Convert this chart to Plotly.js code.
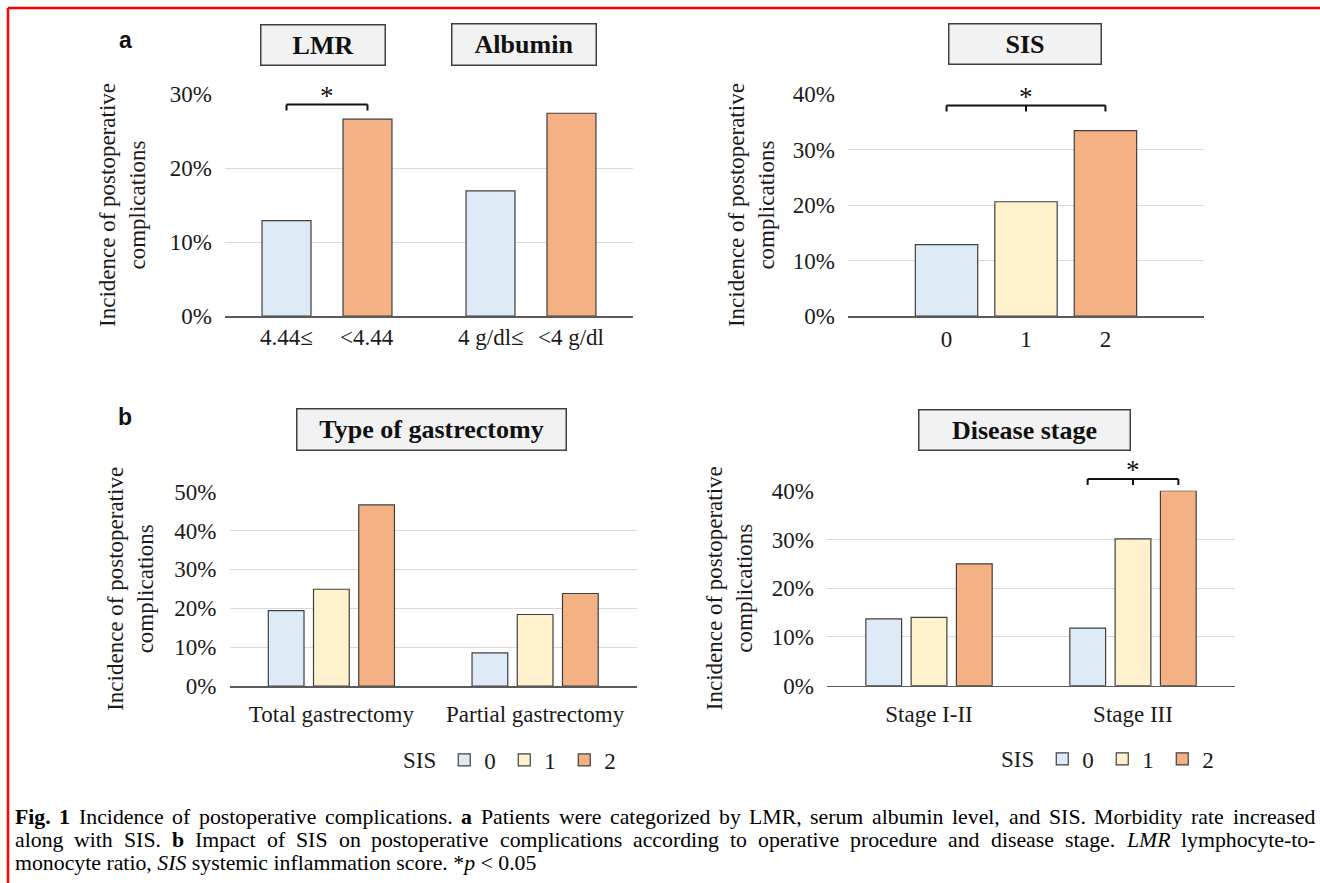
<!DOCTYPE html>
<html>
<head>
<meta charset="utf-8">
<script src="https://cdn.plot.ly/plotly-3.0.1.min.js"></script>
<style>html,body{margin:0;padding:0;background:#fff;}#chart{width:1320px;height:883px;}</style>
</head>
<body>
<div id="chart"></div>
<script>
// ---------- data ----------
const groupCats = ['LMR', 'Albumin'];
const favLabels = ['4.44≤', '4 g/dl≤'];
const unfavLabels = ['<4.44', '<4 g/dl'];
const favValues = [0.129, 0.169];
const unfavValues = [0.266, 0.274];

const sisCats = ['0', '1', '2'];
const sisValues = [0.129, 0.206, 0.334];

const gastCats = ['Total gastrectomy', 'Partial gastrectomy'];
const gastSIS0 = [0.194, 0.085];
const gastSIS1 = [0.249, 0.184];
const gastSIS2 = [0.466, 0.238];

const stageCats = ['Stage I-II', 'Stage III'];
const stageSIS0 = [0.137, 0.118];
const stageSIS1 = [0.140, 0.301];
const stageSIS2 = [0.250, 0.400];

const sisNames = ['0', '1', '2'];
const yTicks = ['0%', '10%', '20%', '30%', '40%', '50%'];

const captionLines = [
  '<b>Fig. 1</b>  Incidence of postoperative complications. <b>a</b> Patients were categorized by LMR, serum albumin level, and SIS. Morbidity rate increased',
  'along with SIS. <b>b</b> Impact of SIS on postoperative complications according to operative procedure and disease stage. <i>LMR</i> lymphocyte-to-',
  'monocyte ratio, <i>SIS</i> systemic inflammation score. *<i>p</i> &lt; 0.05'
];

// ---------- style ----------
const W = 1320, H = 883;
const px = v => v / W;
const py = v => 1 - v / H;
const SERIF = 'Liberation Serif, Times New Roman, serif';
const C0 = '#DEEBF7', C1 = '#FFF2CC', C2 = '#F4B183';
const EDGE = '#3f3f3f';
const TXT = '#1a1a1a';
const barLine = {color: EDGE, width: 1.2};
const PAIR_OFF = 0.1985, PAIR_W = 0.24;

const traces = [
  {type: 'bar', x: groupCats, y: favValues, xaxis: 'x', yaxis: 'y', name: 'favourable',
   marker: {color: C0, line: barLine}, width: PAIR_W, offset: -PAIR_OFF - PAIR_W / 2, showlegend: false, hoverinfo: 'y'},
  {type: 'bar', x: groupCats, y: unfavValues, xaxis: 'x', yaxis: 'y', name: 'unfavourable',
   marker: {color: C2, line: barLine}, width: PAIR_W, offset: PAIR_OFF - PAIR_W / 2, showlegend: false, hoverinfo: 'y'},
  {type: 'bar', x: sisCats, y: sisValues, xaxis: 'x2', yaxis: 'y2', name: 'SIS',
   marker: {color: [C0, C1, C2], line: barLine}, width: 0.785, showlegend: false, hoverinfo: 'y'},
  {type: 'bar', x: gastCats, y: gastSIS0, xaxis: 'x3', yaxis: 'y3', name: sisNames[0], legend: 'legend',
   marker: {color: C0, line: barLine}},
  {type: 'bar', x: gastCats, y: gastSIS1, xaxis: 'x3', yaxis: 'y3', name: sisNames[1], legend: 'legend',
   marker: {color: C1, line: barLine}},
  {type: 'bar', x: gastCats, y: gastSIS2, xaxis: 'x3', yaxis: 'y3', name: sisNames[2], legend: 'legend',
   marker: {color: C2, line: barLine}},
  {type: 'bar', x: stageCats, y: stageSIS0, xaxis: 'x4', yaxis: 'y4', name: sisNames[0], legend: 'legend2',
   marker: {color: C0, line: barLine}},
  {type: 'bar', x: stageCats, y: stageSIS1, xaxis: 'x4', yaxis: 'y4', name: sisNames[1], legend: 'legend2',
   marker: {color: C1, line: barLine}},
  {type: 'bar', x: stageCats, y: stageSIS2, xaxis: 'x4', yaxis: 'y4', name: sisNames[2], legend: 'legend2',
   marker: {color: C2, line: barLine}}
];

function xAx(dom, anchor, extra) {
  return Object.assign({
    domain: dom, anchor: anchor, type: 'category', showline: true, linecolor: '#5a5a5a', linewidth: 1.6,
    ticks: '', showgrid: false, zeroline: false, ticklabelstandoff: 3,
    tickfont: {family: SERIF, size: 23, color: TXT}, fixedrange: true
  }, extra || {});
}
function yAx(dom, anchor, maxV, standoff) {
  const n = Math.round(maxV * 10);
  return {
    domain: dom, anchor: anchor, range: [0, maxV], tickmode: 'array',
    tickvals: yTicks.slice(0, n + 1).map((t, i) => i / 10), ticktext: yTicks.slice(0, n + 1),
    showgrid: true, gridcolor: '#d9d9d9', gridwidth: 1, zeroline: false, showline: false, ticks: '',
    ticklabelstandoff: 12, tickfont: {family: SERIF, size: 23, color: TXT}, fixedrange: true,
    title: {text: 'Incidence of postoperative<br>complications', standoff: standoff,
            font: {family: SERIF, size: 23, color: TXT}}
  };
}

const legendBase = {
  orientation: 'h', xanchor: 'left', yanchor: 'middle',
  title: {text: 'SIS', side: 'left', font: {family: SERIF, size: 23, color: TXT}},
  font: {family: SERIF, size: 23, color: TXT}, bgcolor: 'rgba(0,0,0,0)', itemwidth: 30,
  entrywidth: 15, traceorder: 'normal'
};

const layout = {
  width: W, height: H,
  margin: {l: 0, r: 0, t: 0, b: 0},
  paper_bgcolor: '#fff', plot_bgcolor: 'rgba(0,0,0,0)',
  font: {family: SERIF, size: 23, color: TXT},
  barmode: 'group', bargap: 0.334, bargroupgap: 0.21,
  xaxis: xAx([px(225), px(633)], 'y', {showticklabels: false, range: [-0.5, 1.5]}),
  yaxis: yAx([py(316), py(94)], 'x', 0.3, 17),
  xaxis2: xAx([px(848), px(1204)], 'y2', {range: [-1.24, 3.24], ticklabelstandoff: 2}),
  yaxis2: yAx([py(316.2), py(94)], 'x2', 0.4, 11),
  xaxis3: xAx([px(229.5), px(637)], 'y3', {range: [-0.5, 1.5], ticklabelstandoff: 7}),
  yaxis3: yAx([py(686), py(491.7)], 'x3', 0.5, 14),
  xaxis4: xAx([px(827), px(1235)], 'y4', {range: [-0.5, 1.5], ticklabelstandoff: 7}),
  yaxis4: yAx([py(685.7), py(490.7)], 'x4', 0.4, 12),
  legend: Object.assign({}, legendBase, {x: px(401), y: py(760)}),
  legend2: Object.assign({}, legendBase, {x: px(999), y: py(759)}),
  shapes: [],
  annotations: []
};

// red frame
layout.shapes.push({type: 'line', xref: 'paper', yref: 'paper', x0: px(8), x1: 1, y0: py(8), y1: py(8), line: {color: '#ff0000', width: 2.5}});
layout.shapes.push({type: 'line', xref: 'paper', yref: 'paper', x0: px(8), x1: px(8), y0: py(8), y1: 0, line: {color: '#ff0000', width: 2.5}});

// significance brackets
function bracket(xref, xa, xb, xm, yTop, yBot) {
  const ln = {color: '#111', width: 2};
  layout.shapes.push({type: 'line', xref: xref, yref: 'paper', x0: xa, x1: xb, y0: py(yTop), y1: py(yTop), line: ln});
  layout.shapes.push({type: 'line', xref: xref, yref: 'paper', x0: xa, x1: xa, y0: py(yTop), y1: py(yBot), line: ln});
  layout.shapes.push({type: 'line', xref: xref, yref: 'paper', x0: xb, x1: xb, y0: py(yTop), y1: py(yBot), line: ln});
  if (xm !== null) layout.shapes.push({type: 'line', xref: xref, yref: 'paper', x0: xm, x1: xm, y0: py(yTop), y1: py(yBot), line: ln});
  layout.annotations.push({xref: xref, yref: 'paper', x: xm !== null ? xm : (xa + xb) / 2, y: py(yTop + 8),
    yanchor: 'bottom', text: '*', showarrow: false, font: {family: SERIF, size: 27, color: '#111'}});
}
bracket('x', -PAIR_OFF, PAIR_OFF, null, 104.5, 110.5);
bracket('x2', 0, 2, 1, 105.5, 111.5);
bracket('x4', 1 - 0.2223, 1 + 0.2223, 1, 479, 485);

// top-left per-bar category labels
const catPx = (633 - 225) / 2;
favLabels.forEach((t, i) => layout.annotations.push({xref: 'x', yref: 'paper', x: i, xshift: -PAIR_OFF * catPx, y: py(338),
  yanchor: 'middle', text: t, showarrow: false, font: {family: SERIF, size: 23, color: TXT}}));
unfavLabels.forEach((t, i) => layout.annotations.push({xref: 'x', yref: 'paper', x: i, xshift: PAIR_OFF * catPx, y: py(338),
  yanchor: 'middle', text: t.replace('<', '&lt;'), showarrow: false, font: {family: SERIF, size: 23, color: TXT}}));

// boxed chart titles
function box(text, cx, cy, w, h) {
  layout.annotations.push({xref: 'paper', yref: 'paper', x: px(cx), y: py(cy), xanchor: 'center', yanchor: 'middle',
    text: '<b>' + text + '</b>', showarrow: false, width: w, height: h, borderpad: 0,
    bgcolor: '#f2f2f2', bordercolor: '#404040', borderwidth: 1.5,
    font: {family: SERIF, size: 26, color: '#111'}});
}
box('LMR', 322.5, 45, 123, 39);
box('Albumin', 524, 44.5, 143, 40);
box('SIS', 1025, 44, 151, 39);
box('Type of gastrectomy', 431, 429, 268, 40);
box('Disease stage', 1024, 429.5, 210, 39);

// panel letters
[['a', 125, 40], ['b', 125, 417]].forEach(p => layout.annotations.push({xref: 'paper', yref: 'paper',
  x: px(p[1]), y: py(p[2]), text: '<b>' + p[0] + '</b>', showarrow: false, xanchor: 'center', yanchor: 'middle',
  font: {family: 'Liberation Sans, Arial, sans-serif', size: 23, color: '#111'}}));

// caption (lines 1-2 justified word by word, last line left aligned)
const CAP_SIZE = 21.8, CAP_X0 = 14, CAP_X1 = 1314, CAP_Y0 = 817, CAP_DY = 23;
const capFont = {family: SERIF, size: CAP_SIZE, color: '#000'};
const ctx = document.createElement('canvas').getContext('2d');
function measureSeg(s) {
  ctx.font = (s.i ? 'italic ' : '') + (s.b ? 'bold ' : '') + CAP_SIZE + 'px "Liberation Serif"';
  return ctx.measureText(s.t.replace(/&lt;/g, '<')).width;
}
function tokenize(line) {
  let bold = false, ital = false;
  const words = [[]];
  line.split(/(<\/?[bi]>)/).forEach(p => {
    if (p === '<b>') bold = true; else if (p === '</b>') bold = false;
    else if (p === '<i>') ital = true; else if (p === '</i>') ital = false;
    else p.split(' ').forEach((w, k) => {
      if (k > 0) words.push([]);
      if (w) words[words.length - 1].push({t: w, b: bold, i: ital});
    });
  });
  return words.filter(w => w.length);
}
const segHtml = s => (s.b ? '<b>' : '') + (s.i ? '<i>' : '') + s.t + (s.i ? '</i>' : '') + (s.b ? '</b>' : '');
captionLines.forEach((line, li) => {
  const yv = py(CAP_Y0 + CAP_DY * li);
  if (li === captionLines.length - 1) {
    layout.annotations.push({xref: 'paper', yref: 'paper', x: px(CAP_X0), y: yv, xanchor: 'left', yanchor: 'middle',
      align: 'left', text: line, showarrow: false, borderpad: 0, font: capFont});
    return;
  }
  const words = tokenize(line);
  const widths = words.map(w => w.reduce((a, s) => a + measureSeg(s), 0));
  const total = widths.reduce((a, b) => a + b, 0);
  const gap = (CAP_X1 - CAP_X0 - total) / (words.length - 1);
  let xc = CAP_X0;
  words.forEach((w, k) => {
    layout.annotations.push({xref: 'paper', yref: 'paper', x: px(xc), y: yv, xanchor: 'left', yanchor: 'middle',
      text: w.map(segHtml).join(''), showarrow: false, borderpad: 0, font: capFont});
    xc += widths[k] + gap;
  });
});

Plotly.newPlot('chart', traces, layout, {displayModeBar: false, staticPlot: true});
</script>
</body>
</html>
